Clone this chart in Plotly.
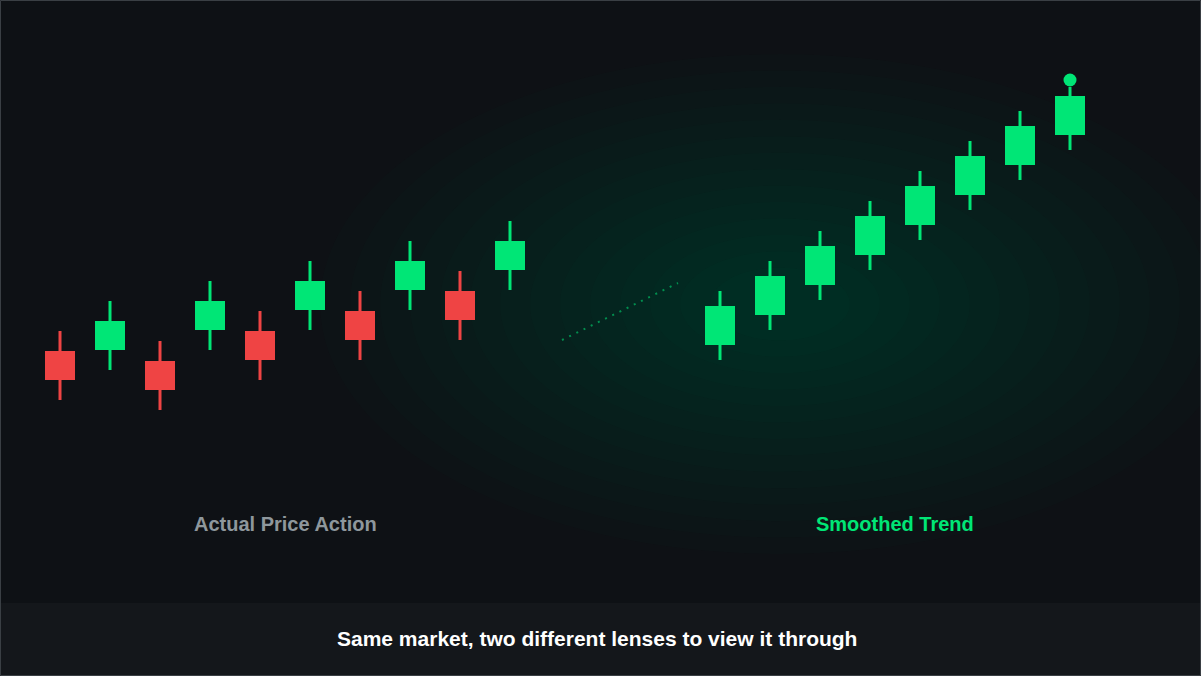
import plotly.graph_objects as go

# Left group: actual price action (y in chart units, 0 bottom .. 676 top)
left_x = [60,110,160,210,260,310,360,410,460,510]
left_open  = [325,326,315,346,345,366,365,386,385,406]
left_close = [296,355,286,375,316,395,336,415,356,435]
left_high  = [345,375,335,395,365,415,385,435,405,455]
left_low   = [276,306,266,326,296,346,316,366,336,386]

right_x = [720,770,820,870,920,970,1020,1070]
right_open  = [331,361,391,421,451,481,511,541]
right_close = [370,400,430,460,490,520,550,580]
right_high  = [385,415,445,475,505,535,565,589]
right_low   = [316,346,376,406,436,466,496,526]
tip_y = 596

GREEN = "#00e676"
RED = "#ef4444"

fig = go.Figure()

def add_candles(xs, o, c, h, l):
    cols = [GREEN if cc >= oo else RED for oo, cc in zip(o, c)]
    fig.add_trace(go.Bar(x=xs, y=[hh-ll for hh, ll in zip(h, l)], base=l, width=3,
                         marker=dict(color=cols, line=dict(width=0)), hoverinfo="skip"))
    fig.add_trace(go.Bar(x=xs, y=[abs(cc-oo) for oo, cc in zip(o, c)],
                         base=[min(oo, cc) for oo, cc in zip(o, c)], width=30,
                         marker=dict(color=cols, line=dict(width=0)), hoverinfo="skip"))

shapes = []
n = 14
for i in range(n):
    f = 1 - i / n
    rx, ry = 420 * f + 40, 230 * f + 20
    shapes.append(dict(type="circle", xref="x", yref="y", x0=780-rx, x1=780+rx,
                       y0=372-ry, y1=372+ry, fillcolor="rgba(20,180,100,0.016)",
                       line=dict(width=0), layer="below"))
shapes.append(dict(type="rect", xref="x", yref="y", x0=0, x1=1201, y0=0, y1=73,
                   fillcolor="#14171b", line=dict(width=0), layer="below"))
shapes.append(dict(type="rect", xref="x", yref="y", x0=0.5, x1=1200.5, y0=0.5, y1=675.5,
                   fillcolor="rgba(0,0,0,0)", line=dict(width=1, color="#3a3f44")))

add_candles(left_x, left_open, left_close, left_high, left_low)
add_candles(right_x, right_open, right_close, right_high, right_low)

fig.add_trace(go.Scatter(x=[right_x[-1]], y=[tip_y], mode="markers",
                         marker=dict(size=13, color=GREEN), hoverinfo="skip"))
fig.add_trace(go.Scatter(x=[562, 678], y=[336, 393], mode="lines",
                         line=dict(color="rgba(0,230,118,0.55)", width=2, dash="2px,6px"),
                         hoverinfo="skip"))

fig.update_layout(
    width=1201, height=676, margin=dict(l=0, r=0, t=0, b=0),
    paper_bgcolor="#0e1115", plot_bgcolor="#0e1115",
    showlegend=False, barmode="overlay", shapes=shapes,
    xaxis=dict(range=[0, 1201], visible=False, fixedrange=True),
    yaxis=dict(range=[0, 676], visible=False, fixedrange=True),
    annotations=[
        dict(x=285, y=152, xref="x", yref="y", text="<b>Actual Price Action</b>", showarrow=False,
             font=dict(family="Liberation Sans, Arial", size=20, color="#8e979c")),
        dict(x=895, y=152, xref="x", yref="y", text="<b>Smoothed Trend</b>", showarrow=False,
             font=dict(family="Liberation Sans, Arial", size=20, color=GREEN)),
        dict(x=597, y=38, xref="x", yref="y", text="<b>Same market, two different lenses to view it through</b>",
             showarrow=False, font=dict(family="Liberation Sans, Arial", size=21, color="#ffffff")),
    ],
)
fig.write_html("out.html", config={"displayModeBar": False},
               post_script="document.body.style.margin='0';document.body.style.overflow='hidden';")
